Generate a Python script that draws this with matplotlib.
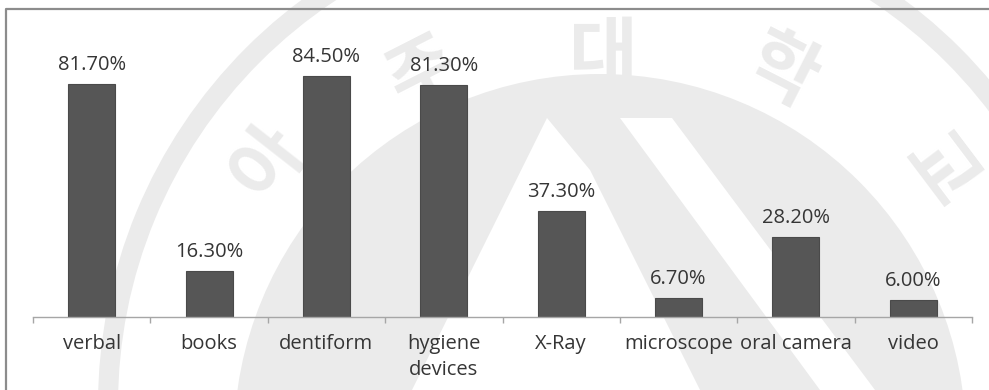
import matplotlib
matplotlib.use("Agg")
import matplotlib.pyplot as plt
import numpy as np
from matplotlib.patches import Circle, Polygon, Wedge
from matplotlib.lines import Line2D

# Teaching tools used in oral health education (% of respondents)
categories = ["verbal", "books", "dentiform", "hygiene\ndevices", "X-Ray",
              "microscope", "oral camera", "video"]
values = [81.7, 16.3, 84.5, 81.3, 37.3, 6.7, 28.2, 6.0]
value_labels = ["81.70%", "16.30%", "84.50%", "81.30%", "37.30%",
                "6.70%", "28.20%", "6.00%"]

W, H, DPI = 989, 390, 100
fig = plt.figure(figsize=(W / DPI, H / DPI), dpi=DPI)
fig.patch.set_facecolor("white")

# Background layer in pixel coordinates: faint university seal and chart frame
bg = fig.add_axes([0, 0, 1, 1], zorder=0)
bg.set_xlim(0, W)
bg.set_ylim(H, 0)
bg.axis("off")
seal = "#ebebeb"
cx0, cy0 = 603, 425
bg.add_patch(Wedge((cx0, cy0 - 20), 505, 0, 360, width=20, facecolor=seal, edgecolor="none"))
bg.add_patch(Circle((600, 440), 366, facecolor=seal, edgecolor="none"))
bg.add_patch(Polygon([(547, 118), (412, 390), (700, 390), (590, 170)],
                     closed=True, facecolor="white", edgecolor="none"))
bg.add_patch(Polygon([(620, 118), (672, 118), (875, 390), (820, 390)],
                     closed=True, facecolor="white", edgecolor="none"))
seal_angles = [142, 117, 90, 63, 37]
seal_radius = [425, 395, 368, 395, 420]
for ch, ang, rad in zip("아주대학교", seal_angles, seal_radius):
    a = np.deg2rad(ang)
    bg.text(cx0 + rad * np.cos(a), cy0 - rad * np.sin(a), ch, fontsize=54,
            color=seal, rotation=ang - 90, ha="center", va="center",
            family="Noto Sans CJK KR", fontweight="bold")
bg.add_line(Line2D([6, 6, W], [H, 9, 9], color="#8c8c8c", lw=1.6))

# Bar chart
ax = fig.add_axes([33 / W, (H - 317) / H, (972 - 33) / W, 285 / H], zorder=1)
ax.patch.set_alpha(0)
x = list(range(len(categories)))
ax.bar(x, values, width=0.4, color="#565656", edgecolor="#4a4a4a", linewidth=0.8)
ax.set_xlim(-0.5, len(categories) - 0.5)
ax.set_ylim(0, 100)

text_color = "#353535"
font = "Open Sans"
for xi, v, lab in zip(x, values, value_labels):
    ax.annotate(lab, (xi, v), xytext=(0, 6.5), textcoords="offset points",
                ha="center", va="bottom", fontsize=14.5, color=text_color,
                family=font)

for s in ["top", "right", "left"]:
    ax.spines[s].set_visible(False)
ax.spines["bottom"].set_color("#a6a6a6")
ax.spines["bottom"].set_linewidth(1.0)
ax.set_yticks([])
ax.set_xticks(x)
ax.set_xticklabels(categories, fontsize=14.5, color=text_color, family=font,
                   linespacing=1.4)
ax.tick_params(axis="x", which="major", length=0, pad=12)
ax.set_xticks([i - 0.5 for i in range(len(categories) + 1)], minor=True)
ax.tick_params(axis="x", which="minor", length=4, color="#a6a6a6", width=1.0)

fig.savefig("out.png", dpi=DPI)
